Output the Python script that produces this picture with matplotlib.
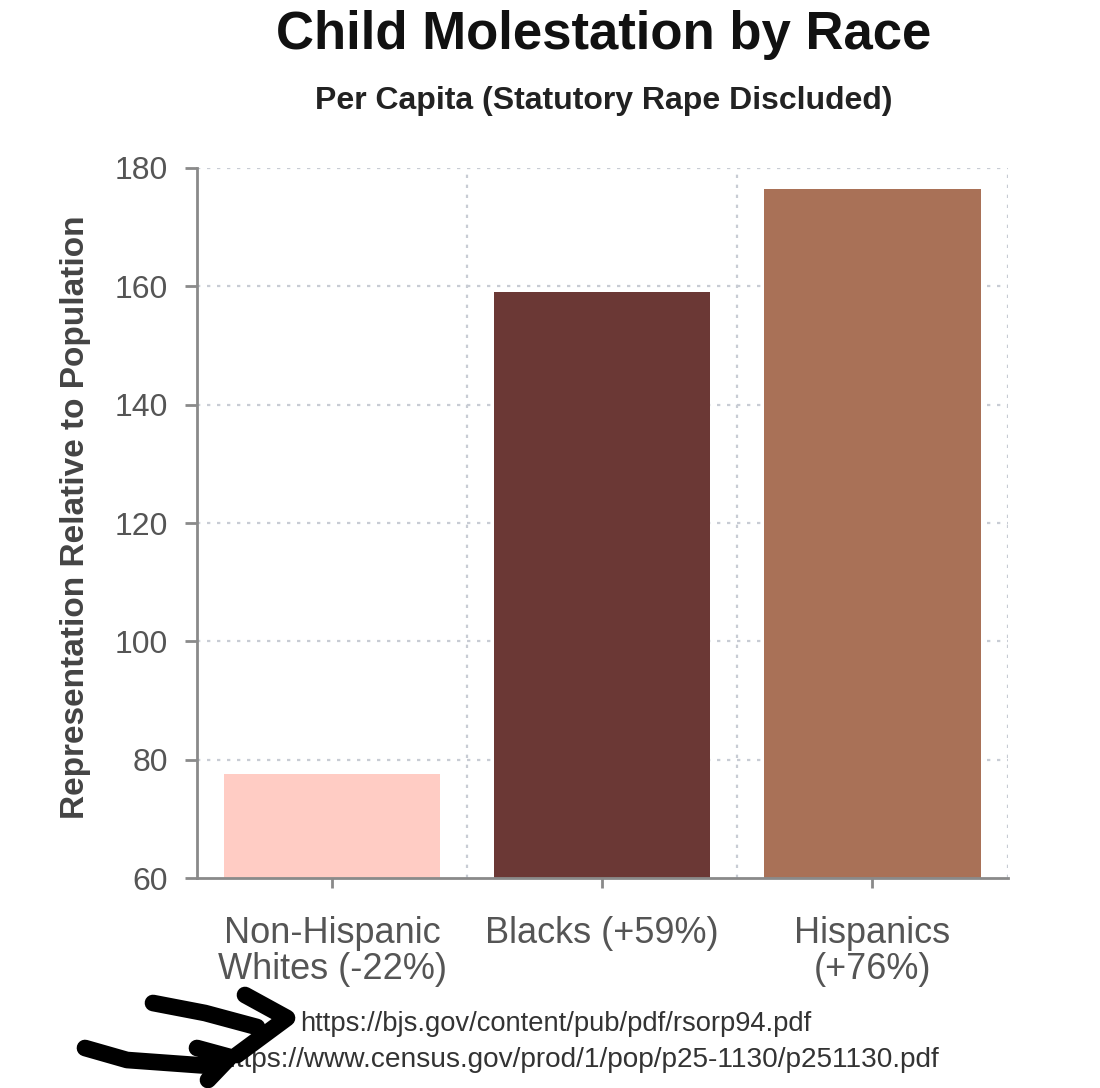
import matplotlib.pyplot as plt
from matplotlib.lines import Line2D
import numpy as np

plt.rcParams['font.family'] = ['Liberation Sans', 'DejaVu Sans']

# Chart values
categories = ['Non-Hispanic\nWhites (-22%)', 'Blacks (+59%)', 'Hispanics\n(+76%)']
values = [77.5, 159, 176.5]
bar_colors = ['#FFCCC4', '#6B3835', '#A97157']
y_ticks = [60, 80, 100, 120, 140, 160, 180]
sources = ['https://bjs.gov/content/pub/pdf/rsorp94.pdf',
           'https://www.census.gov/prod/1/pop/p25-1130/p251130.pdf']

fig = plt.figure(figsize=(11, 10.88), dpi=100)
ax = fig.add_axes([0.179, 0.193, 0.737, 0.6526])

x = np.arange(len(categories))
ax.bar(x, values, width=0.8, color=bar_colors, zorder=3)

ax.set_xlim(-0.5, 2.5)
ax.set_ylim(60, 180)
ax.set_yticks(y_ticks)
ax.set_xticks(x)
ax.set_xticklabels(categories, linespacing=1.05)

# dotted grid: horizontal at ticks, vertical between categories
grid_kw = dict(color='#c8ccd4', linestyle=(0, (1.5, 3)), linewidth=1.6, zorder=1)
for yv in y_ticks[1:]:
    ax.axhline(yv, **grid_kw)
for xv in [0.5, 1.5, 2.5]:
    ax.axvline(xv, **grid_kw)

for side in ['top', 'right']:
    ax.spines[side].set_visible(False)
for side in ['left', 'bottom']:
    ax.spines[side].set_color('#8a8a8a')
    ax.spines[side].set_linewidth(2)
    ax.spines[side].set_zorder(4)

ax.tick_params(axis='y', direction='out', length=9, width=2, color='#8a8a8a',
               labelsize=23, labelcolor='#555555', pad=12)
ax.tick_params(axis='x', direction='out', length=7, width=2, color='#8a8a8a',
               labelsize=26, labelcolor='#555555', pad=20)

ax.set_ylabel('Representation Relative to Population', fontsize=24,
              fontweight='bold', color='#444444')
ax.yaxis.set_label_coords(-0.15, 0.508)
ax.yaxis.label.set_va('center')

fig.text(0.549, 0.968, 'Child Molestation by Race', ha='center', va='center',
         fontsize=38, fontweight='bold', color='#111111')
fig.text(0.549, 0.907, 'Per Capita (Statutory Rape Discluded)', ha='center',
         va='center', fontsize=23, fontweight='bold', color='#222222')

# source links
fig.text(300 / 1100, 1 - 1024 / 1088, sources[0], ha='left', va='center',
         fontsize=19.7, color='#333333')
fig.text(220 / 1100, 1 - 1060 / 1088, sources[1], ha='left', va='center',
         fontsize=20.2, color='#333333')

# hand-drawn arrows pointing at the links
def stroke(px, py):
    fig.add_artist(Line2D([p / 1100 for p in px], [1 - p / 1088 for p in py],
                          color='black', linewidth=12, solid_capstyle='round',
                          solid_joinstyle='round', transform=fig.transFigure,
                          zorder=10))

stroke([153, 205, 257], [1003, 1013, 1027])
stroke([245, 287, 237], [995, 1018, 1055])
stroke([85, 127, 210], [1048, 1060, 1066])
stroke([197, 230, 208], [1048, 1057, 1080])

fig.savefig('out.png', dpi=100, facecolor='white')
